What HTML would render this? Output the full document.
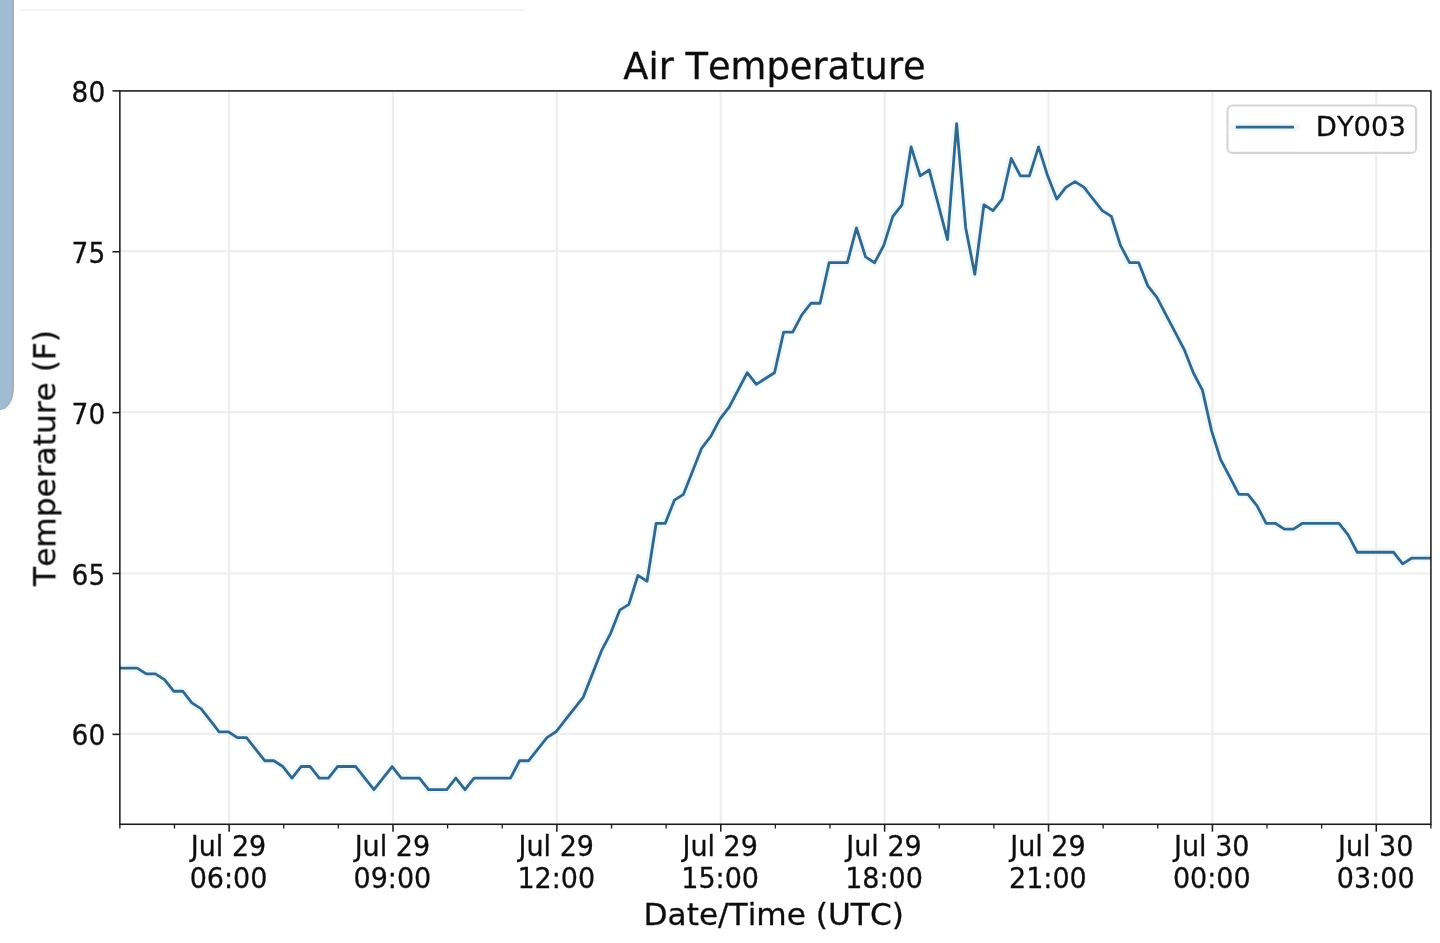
<!DOCTYPE html>
<html lang="en"><head><meta charset="utf-8"><title>Air Temperature</title>
<style>
html,body{margin:0;padding:0;background:#fff;}
body{width:1440px;height:943px;overflow:hidden;position:relative;font-family:"DejaVu Sans","Liberation Sans",sans-serif;}
.bar{position:absolute;left:-6px;top:-6px;width:19.7px;height:416.4px;background:#a7afba;border-bottom-right-radius:14px 22px;filter:blur(0.45px);}
.bar::after{content:"";position:absolute;left:0;top:0;width:17.9px;height:414.8px;background:#a0bbd4;border-bottom-right-radius:12.6px 20.6px;}
svg{position:absolute;left:0;top:0;}
svg text{font-family:"DejaVu Sans","Liberation Sans",sans-serif;fill:#111;stroke:#111;stroke-width:0.3px;stroke-linejoin:round;font-kerning:none;}
</style></head><body>
<div class="bar"></div>
<svg width="1440" height="943" viewBox="0 0 1440 943">
<defs><clipPath id="ax"><rect x="119.86" y="90.92" width="1311.0400000000002" height="733.35"/></clipPath>
<filter id="soft" x="-2%" y="-2%" width="104%" height="104%"><feGaussianBlur stdDeviation="0.55"/></filter></defs>
<g filter="url(#soft)">

<line x1="20" y1="10.15" x2="525" y2="10.15" stroke="#ebebeb" stroke-width="1.3"/>
<polyline clip-path="url(#ax)" points="119.00,668.08 128.10,668.08 137.21,668.08 146.31,673.87 155.42,673.87 164.52,679.66 173.63,691.24 182.73,691.24 191.84,702.82 200.94,708.61 210.04,720.19 219.15,731.78 228.25,731.78 237.36,737.57 246.46,737.57 255.57,749.15 264.67,760.73 273.77,760.73 282.88,766.52 291.98,778.10 301.09,766.52 310.19,766.52 319.30,778.10 328.40,778.10 337.51,766.52 346.61,766.52 355.71,766.52 364.82,778.10 373.92,789.69 383.03,778.10 392.13,766.52 401.24,778.10 410.34,778.10 419.45,778.10 428.55,789.69 437.65,789.69 446.76,789.69 455.86,778.10 464.97,789.69 474.07,778.10 483.18,778.10 492.28,778.10 501.38,778.10 510.49,778.10 519.59,760.73 528.70,760.73 537.80,749.15 546.91,737.57 556.01,731.78 565.12,720.19 574.22,708.61 583.32,697.03 592.43,673.87 601.53,650.70 610.64,633.33 619.74,610.17 628.85,604.38 637.95,575.42 647.06,581.21 656.16,523.30 665.26,523.30 674.37,500.14 683.47,494.35 692.58,471.18 701.68,448.02 710.79,436.44 719.89,419.06 728.99,407.48 738.10,390.11 747.20,372.74 756.31,384.32 765.41,378.53 774.52,372.74 783.62,332.20 792.73,332.20 801.83,314.83 810.93,303.25 820.04,303.25 829.14,262.71 838.25,262.71 847.35,262.71 856.46,227.96 865.56,256.92 874.67,262.71 883.77,245.34 892.87,216.38 901.98,204.80 911.08,146.89 920.19,175.84 929.29,170.05 938.40,204.80 947.50,239.54 956.60,123.73 965.71,227.96 974.81,274.29 983.92,204.80 993.02,210.59 1002.13,199.01 1011.23,158.47 1020.34,175.84 1029.44,175.84 1038.54,146.89 1047.65,175.84 1056.75,199.01 1065.86,187.43 1074.96,181.64 1084.07,187.43 1093.17,199.01 1102.28,210.59 1111.38,216.38 1120.48,245.34 1129.59,262.71 1138.69,262.71 1147.80,285.87 1156.90,297.45 1166.01,314.83 1175.11,332.20 1184.21,349.57 1193.32,372.74 1202.42,390.11 1211.53,430.65 1220.63,459.60 1229.74,476.97 1238.84,494.35 1247.95,494.35 1257.05,505.93 1266.15,523.30 1275.26,523.30 1284.36,529.09 1293.47,529.09 1302.57,523.30 1311.68,523.30 1320.78,523.30 1329.89,523.30 1338.99,523.30 1348.09,534.88 1357.20,552.26 1366.30,552.26 1375.41,552.26 1384.51,552.26 1393.62,552.26 1402.72,563.84 1411.82,558.05 1420.93,558.05 1430.03,558.05" fill="none" stroke="#eff9fc" stroke-width="8" stroke-linejoin="round"/>
<g stroke="#eeeeee" stroke-width="2.2" fill="none">
<line x1="229.11" y1="90.92" x2="229.11" y2="824.27"/>
<line x1="392.99" y1="90.92" x2="392.99" y2="824.27"/>
<line x1="556.87" y1="90.92" x2="556.87" y2="824.27"/>
<line x1="720.75" y1="90.92" x2="720.75" y2="824.27"/>
<line x1="884.63" y1="90.92" x2="884.63" y2="824.27"/>
<line x1="1048.51" y1="90.92" x2="1048.51" y2="824.27"/>
<line x1="1212.39" y1="90.92" x2="1212.39" y2="824.27"/>
<line x1="1376.27" y1="90.92" x2="1376.27" y2="824.27"/>
<line x1="119.86" y1="90.91" x2="1430.9" y2="90.91"/>
<line x1="119.86" y1="251.07" x2="1430.9" y2="251.07"/>
<line x1="119.86" y1="412.18" x2="1430.9" y2="412.18"/>
<line x1="119.86" y1="573.49" x2="1430.9" y2="573.49"/>
<line x1="119.86" y1="733.95" x2="1430.9" y2="733.95"/>
</g>
<polyline clip-path="url(#ax)" points="119.00,668.08 128.10,668.08 137.21,668.08 146.31,673.87 155.42,673.87 164.52,679.66 173.63,691.24 182.73,691.24 191.84,702.82 200.94,708.61 210.04,720.19 219.15,731.78 228.25,731.78 237.36,737.57 246.46,737.57 255.57,749.15 264.67,760.73 273.77,760.73 282.88,766.52 291.98,778.10 301.09,766.52 310.19,766.52 319.30,778.10 328.40,778.10 337.51,766.52 346.61,766.52 355.71,766.52 364.82,778.10 373.92,789.69 383.03,778.10 392.13,766.52 401.24,778.10 410.34,778.10 419.45,778.10 428.55,789.69 437.65,789.69 446.76,789.69 455.86,778.10 464.97,789.69 474.07,778.10 483.18,778.10 492.28,778.10 501.38,778.10 510.49,778.10 519.59,760.73 528.70,760.73 537.80,749.15 546.91,737.57 556.01,731.78 565.12,720.19 574.22,708.61 583.32,697.03 592.43,673.87 601.53,650.70 610.64,633.33 619.74,610.17 628.85,604.38 637.95,575.42 647.06,581.21 656.16,523.30 665.26,523.30 674.37,500.14 683.47,494.35 692.58,471.18 701.68,448.02 710.79,436.44 719.89,419.06 728.99,407.48 738.10,390.11 747.20,372.74 756.31,384.32 765.41,378.53 774.52,372.74 783.62,332.20 792.73,332.20 801.83,314.83 810.93,303.25 820.04,303.25 829.14,262.71 838.25,262.71 847.35,262.71 856.46,227.96 865.56,256.92 874.67,262.71 883.77,245.34 892.87,216.38 901.98,204.80 911.08,146.89 920.19,175.84 929.29,170.05 938.40,204.80 947.50,239.54 956.60,123.73 965.71,227.96 974.81,274.29 983.92,204.80 993.02,210.59 1002.13,199.01 1011.23,158.47 1020.34,175.84 1029.44,175.84 1038.54,146.89 1047.65,175.84 1056.75,199.01 1065.86,187.43 1074.96,181.64 1084.07,187.43 1093.17,199.01 1102.28,210.59 1111.38,216.38 1120.48,245.34 1129.59,262.71 1138.69,262.71 1147.80,285.87 1156.90,297.45 1166.01,314.83 1175.11,332.20 1184.21,349.57 1193.32,372.74 1202.42,390.11 1211.53,430.65 1220.63,459.60 1229.74,476.97 1238.84,494.35 1247.95,494.35 1257.05,505.93 1266.15,523.30 1275.26,523.30 1284.36,529.09 1293.47,529.09 1302.57,523.30 1311.68,523.30 1320.78,523.30 1329.89,523.30 1338.99,523.30 1348.09,534.88 1357.20,552.26 1366.30,552.26 1375.41,552.26 1384.51,552.26 1393.62,552.26 1402.72,563.84 1411.82,558.05 1420.93,558.05 1430.03,558.05" fill="none" stroke="#31678d" stroke-width="2.8" stroke-linejoin="round" stroke-linecap="square"/>
<g stroke="#1c1c1c" stroke-width="1.55" fill="none">
<line x1="229.11" y1="824.27" x2="229.11" y2="831.67"/>
<line x1="392.99" y1="824.27" x2="392.99" y2="831.67"/>
<line x1="556.87" y1="824.27" x2="556.87" y2="831.67"/>
<line x1="720.75" y1="824.27" x2="720.75" y2="831.67"/>
<line x1="884.63" y1="824.27" x2="884.63" y2="831.67"/>
<line x1="1048.51" y1="824.27" x2="1048.51" y2="831.67"/>
<line x1="1212.39" y1="824.27" x2="1212.39" y2="831.67"/>
<line x1="1376.27" y1="824.27" x2="1376.27" y2="831.67"/>
<line x1="119.86" y1="824.27" x2="119.86" y2="828.47" stroke-width="1.3"/>
<line x1="174.49" y1="824.27" x2="174.49" y2="828.47" stroke-width="1.3"/>
<line x1="283.74" y1="824.27" x2="283.74" y2="828.47" stroke-width="1.3"/>
<line x1="338.37" y1="824.27" x2="338.37" y2="828.47" stroke-width="1.3"/>
<line x1="447.62" y1="824.27" x2="447.62" y2="828.47" stroke-width="1.3"/>
<line x1="502.25" y1="824.27" x2="502.25" y2="828.47" stroke-width="1.3"/>
<line x1="611.50" y1="824.27" x2="611.50" y2="828.47" stroke-width="1.3"/>
<line x1="666.13" y1="824.27" x2="666.13" y2="828.47" stroke-width="1.3"/>
<line x1="775.38" y1="824.27" x2="775.38" y2="828.47" stroke-width="1.3"/>
<line x1="830.01" y1="824.27" x2="830.01" y2="828.47" stroke-width="1.3"/>
<line x1="939.26" y1="824.27" x2="939.26" y2="828.47" stroke-width="1.3"/>
<line x1="993.89" y1="824.27" x2="993.89" y2="828.47" stroke-width="1.3"/>
<line x1="1103.14" y1="824.27" x2="1103.14" y2="828.47" stroke-width="1.3"/>
<line x1="1157.77" y1="824.27" x2="1157.77" y2="828.47" stroke-width="1.3"/>
<line x1="1267.02" y1="824.27" x2="1267.02" y2="828.47" stroke-width="1.3"/>
<line x1="1321.65" y1="824.27" x2="1321.65" y2="828.47" stroke-width="1.3"/>
<line x1="1430.90" y1="824.27" x2="1430.90" y2="828.47" stroke-width="1.3"/>
<line x1="112.46" y1="90.91" x2="119.86" y2="90.91"/>
<line x1="112.46" y1="251.77" x2="119.86" y2="251.77"/>
<line x1="112.46" y1="412.63" x2="119.86" y2="412.63"/>
<line x1="112.46" y1="573.49" x2="119.86" y2="573.49"/>
<line x1="112.46" y1="734.35" x2="119.86" y2="734.35"/>
<rect x="119.86" y="90.92" width="1311.04" height="733.35" stroke-linejoin="miter"/>
</g>
<rect x="1227.5" y="105.5" width="188.6" height="47.4" rx="5" ry="5" fill="#fff" fill-opacity="0.8" stroke="#d6d6d6" stroke-width="2.2"/>
<line x1="1234" y1="127.1" x2="1296" y2="127.1" stroke="#eff9fc" stroke-width="8" stroke-linecap="round"/>
<line x1="1235.8" y1="127.1" x2="1294" y2="127.1" stroke="#31678d" stroke-width="2.8" stroke-linecap="butt"/>
<text x="1315.8" y="136.0" font-size="27.4">DY003</text>
<text transform="translate(228.51 856.25) scale(1 1.03)" font-size="27.0" text-anchor="middle">Jul 29</text>
<text transform="translate(228.51 888.15) scale(1 1.03)" font-size="27.0" text-anchor="middle">06:00</text>
<text transform="translate(392.39 856.25) scale(1 1.03)" font-size="27.0" text-anchor="middle">Jul 29</text>
<text transform="translate(392.39 888.15) scale(1 1.03)" font-size="27.0" text-anchor="middle">09:00</text>
<text transform="translate(556.27 856.25) scale(1 1.03)" font-size="27.0" text-anchor="middle">Jul 29</text>
<text transform="translate(556.27 888.15) scale(1 1.03)" font-size="27.0" text-anchor="middle">12:00</text>
<text transform="translate(720.15 856.25) scale(1 1.03)" font-size="27.0" text-anchor="middle">Jul 29</text>
<text transform="translate(720.15 888.15) scale(1 1.03)" font-size="27.0" text-anchor="middle">15:00</text>
<text transform="translate(884.03 856.25) scale(1 1.03)" font-size="27.0" text-anchor="middle">Jul 29</text>
<text transform="translate(884.03 888.15) scale(1 1.03)" font-size="27.0" text-anchor="middle">18:00</text>
<text transform="translate(1047.91 856.25) scale(1 1.03)" font-size="27.0" text-anchor="middle">Jul 29</text>
<text transform="translate(1047.91 888.15) scale(1 1.03)" font-size="27.0" text-anchor="middle">21:00</text>
<text transform="translate(1211.79 856.25) scale(1 1.03)" font-size="27.0" text-anchor="middle">Jul 30</text>
<text transform="translate(1211.79 888.15) scale(1 1.03)" font-size="27.0" text-anchor="middle">00:00</text>
<text transform="translate(1375.67 856.25) scale(1 1.03)" font-size="27.0" text-anchor="middle">Jul 30</text>
<text transform="translate(1375.67 888.15) scale(1 1.03)" font-size="27.0" text-anchor="middle">03:00</text>
<text transform="translate(105.2 101.96) scale(1 1.06)" font-size="26.4" text-anchor="end">80</text>
<text transform="translate(105.2 262.82) scale(1 1.06)" font-size="26.4" text-anchor="end">75</text>
<text transform="translate(105.2 423.68) scale(1 1.06)" font-size="26.4" text-anchor="end">70</text>
<text transform="translate(105.2 584.54) scale(1 1.06)" font-size="26.4" text-anchor="end">65</text>
<text transform="translate(105.2 745.40) scale(1 1.06)" font-size="26.4" text-anchor="end">60</text>
<text x="774.48" y="78.8" font-size="36.8" text-anchor="middle">Air Temperature</text>
<text id="xl" transform="translate(773.68 924.5) scale(1.027 1)" font-size="30.4" text-anchor="middle">Date/Time (UTC)</text>
<text id="yl" transform="translate(55.3 457.89) rotate(-90) scale(1.03 1)" font-size="30.3" text-anchor="middle">Temperature (F)</text>
</g></svg></body></html>
